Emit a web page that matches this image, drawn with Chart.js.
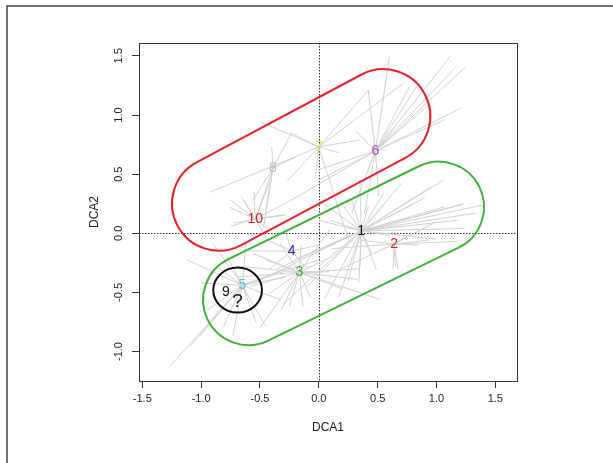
<!DOCTYPE html>
<html>
<head>
<meta charset="utf-8">
<script src="https://cdn.jsdelivr.net/npm/chart.js@4.4.1/dist/chart.umd.min.js"></script>
<style>
  body { margin: 0; background: #fff; }
  canvas { display: block; }
</style>
</head>
<body>
<canvas id="myChart" width="613" height="463"></canvas>
<script>
const canvas = document.getElementById('myChart');
const ctx = canvas.getContext('2d');

// axis ticks
const xTicks = [-1.5, -1.0, -0.5, 0.0, 0.5, 1.0, 1.5];
const yTicks = [-1.0, -0.5, 0.0, 0.5, 1.0, 1.5];

// group centroids (DCA1, DCA2) and their labels
const groupLabels = ['1', '2', '3', '4', '5', '6', '7', '8', '9', '10'];
const centroidX = [0.36, 0.64, -0.165, -0.23, -0.65, 0.48, 0.0, -0.39, -0.79, -0.54];
const centroidY = [0.02, -0.09, -0.33, -0.15, -0.44, 0.695, 0.73, 0.55, -0.50, 0.12];

// site scores for each group (ends of the spider lines)
const sites1 = [[0.0, 0.28], [0.0, 0.11], [0.0, -0.14], [0.0, -0.28], [0.28, 0.28], [0.56, 0.25],
  [0.79, 0.24], [1.07, 0.225], [1.24, 0.04], [1.18, 0.11], [1.21, 0.24], [1.33, 0.17],
  [0.45, -0.17], [0.49, -0.31], [0.34, -0.42], [0.17, -0.54], [0.35, -0.28], [0.42, 0.23],
  [1.06, 0.45], [1.23, 0.25], [0.95, 0.39], [1.40, 0.24], [0.55, 0.34], [0.35, 0.45],
  [0.21, 0.23], [0.10, 0.11], [-0.2, -0.22], [-0.35, -0.3], [-0.1, -0.45], [-0.55, -0.42],
  [0.9, 0.3], [0.7, 0.42], [1.0, -0.05], [0.6, -0.02], [0.25, -0.4], [-0.3, -0.6], [0.05, -0.55]];
const sites2 = [[0.675, -0.31], [0.65, -0.28], [0.63, -0.3], [1.17, -0.07], [0.93, -0.057],
  [0.79, 0.0], [0.11, -0.13], [0.36, -0.06], [0.17, -0.31], [0.85, -0.1], [1.0, 0.1]];
const sites3 = [[0.09, 0.03], [0.09, -0.325], [-0.45, -0.225], [-0.42, -0.51], [-0.25, -0.62],
  [-0.135, -0.62], [-0.70, -0.37], [-0.56, -0.17], [-0.33, -0.085], [0.52, -0.56], [0.33, -0.39],
  [0.1, -0.2], [-0.07, -0.54], [-0.32, -0.65], [-0.58, -0.45], [-0.66, -0.28], [0.35, -0.3],
  [0.2, -0.47], [-0.15, -0.1], [0.0, -0.33], [-0.5, -0.8]];
const sites4 = [[-0.45, -0.05], [0.0, -0.1], [-0.1, -0.3], [-0.42, -0.3], [-0.3, 0.05], [-0.6, -0.15]];
const sites5 = [[-1.27, -1.13], [-1.1, -0.96], [-1.01, -0.87], [-1.12, -0.225], [-0.9, -0.085],
  [-0.62, -0.085], [-0.73, -0.87], [-0.53, -0.76], [-0.45, -0.79], [-0.33, -0.56], [-0.28, -0.37],
  [-0.22, -0.28], [0.0, -0.225], [-0.87, -0.28], [-0.95, -0.65], [-0.81, -0.79], [-0.78, -0.2],
  [-1.0, -0.42]];
const sites6 = [[0.60, 1.49], [1.12, 1.50], [1.25, 1.41], [1.17, 1.41], [1.21, 1.06], [0.77, 1.24],
  [0.42, 1.21], [0.32, 0.86], [0.0, 0.54], [0.0, 0.45], [0.56, 0.71], [0.51, 0.31], [0.28, 0.17],
  [0.39, 0.17], [0.65, 0.9], [0.85, 1.27], [1.07, 0.96], [-0.2, 0.3], [0.95, 1.1]];
const sites7 = [[0.42, 1.21], [0.72, 1.27], [0.17, 0.68], [0.35, 0.79], [-0.24, 0.85], [-0.49, 0.94],
  [-0.03, 0.47], [-0.27, 0.44], [-0.92, 0.35], [0.25, -0.05]];
const sites8 = [[-0.40, 0.73], [-0.23, 0.85], [-0.56, 0.28], [-0.52, 0.17], [-0.45, 0.2], [-0.19, 0.65],
  [-0.47, 0.05]];
const sites9 = [];
const sites10 = [[-0.76, 0.22], [-0.73, 0.085], [-0.28, 0.155], [-0.39, 0.0], [-0.45, -0.03],
  [-0.64, 0.28], [-0.75, 0.28], [-0.66, 0.31], [-0.41, 0.45], [-0.18, 0.31], [-0.31, 0.155],
  [-0.75, 0.06], [-0.55, 0.35]];
const allSites = [sites1, sites2, sites3, sites4, sites5, sites6, sites7, sites8, sites9, sites10];

// hulls drawn around groups: centre, half length, radius, angle (deg)
const hullX = [-0.15, 0.21];
const hullY = [0.62, -0.17];
const hullHalfLen = [0.79, 0.90];
const hullRadius = [0.40, 0.385];
const hullAngle = [28, 26];

// the "?" circle
const circleX = -0.69, circleY = -0.48, circleRx = 0.207, circleRy = 0.19;

const labelColors = ['#111111', '#dd2222', '#33aa33', '#2a2ab0', '#4cc8d8',
  '#b040c0', '#e6de3a', '#b8b8b8', '#111111', '#cc2525'];
const hullColors = ['#e8202a', '#44b03c'];

// one dataset per group; spokes separated by gaps
const datasets = allSites.map((sites, g) => {
  const pts = [];
  sites.forEach(s => {
    pts.push({ x: centroidX[g], y: centroidY[g] });
    pts.push({ x: s[0], y: s[1] });
    pts.push({ x: null, y: null });
  });
  return {
    data: pts,
    showLine: true,
    spanGaps: false,
    borderColor: '#d2d2d2',
    borderWidth: 1,
    pointRadius: 0
  };
});

const font = 'Liberation Sans, Arial, sans-serif';

const decor = {
  id: 'decor',
  beforeDraw(chart) {
    const c = chart.ctx;
    c.save();
    c.fillStyle = '#fff';
    c.fillRect(0, 0, chart.width, chart.height);
    c.restore();
  },
  beforeDatasetsDraw(chart) {
    const c = chart.ctx, a = chart.chartArea;
    const xs = chart.scales.x, ys = chart.scales.y;
    c.save();
    c.strokeStyle = '#333';
    c.lineWidth = 1;
    c.setLineDash([1.5, 1.5]);
    const x0 = Math.round(xs.getPixelForValue(0)) + 0.5;
    const y0 = Math.round(ys.getPixelForValue(0)) + 0.5;
    c.beginPath();
    c.moveTo(x0, a.top); c.lineTo(x0, a.bottom);
    c.moveTo(a.left, y0); c.lineTo(a.right, y0);
    c.stroke();
    c.restore();
  },
  afterDatasetsDraw(chart) {
    const c = chart.ctx;
    const xs = chart.scales.x, ys = chart.scales.y;
    const k = xs.getPixelForValue(1) - xs.getPixelForValue(0);
    const ky = ys.getPixelForValue(0) - ys.getPixelForValue(1);
    c.save();
    // hulls
    c.lineWidth = 2;
    hullX.forEach((hx, i) => {
      const L = hullHalfLen[i] * k, r = hullRadius[i] * k;
      c.save();
      c.translate(xs.getPixelForValue(hx), ys.getPixelForValue(hullY[i]));
      c.rotate(-hullAngle[i] * Math.PI / 180);
      c.beginPath();
      c.moveTo(-L, -r);
      c.lineTo(L, -r);
      c.arc(L, 0, r, -Math.PI / 2, Math.PI / 2);
      c.lineTo(-L, r);
      c.arc(-L, 0, r, Math.PI / 2, Math.PI * 1.5);
      c.closePath();
      c.strokeStyle = hullColors[i];
      c.stroke();
      c.restore();
    });
    // circle
    c.beginPath();
    c.ellipse(xs.getPixelForValue(circleX), ys.getPixelForValue(circleY),
      circleRx * k, circleRy * ky, 0, 0, Math.PI * 2);
    c.strokeStyle = '#111';
    c.stroke();
    // group labels
    c.font = '14px ' + font;
    c.textAlign = 'center';
    c.textBaseline = 'middle';
    groupLabels.forEach((t, g) => {
      c.fillStyle = labelColors[g];
      c.fillText(t, xs.getPixelForValue(centroidX[g]), ys.getPixelForValue(centroidY[g]));
    });
    c.font = '19px ' + font;
    c.fillStyle = '#111';
    c.fillText('?', xs.getPixelForValue(-0.69), ys.getPixelForValue(-0.58));
    c.restore();
  },
  afterDraw(chart) {
    const c = chart.ctx, a = chart.chartArea;
    const ys = chart.scales.y;
    c.save();
    // plot box
    c.strokeStyle = '#333';
    c.lineWidth = 1;
    c.strokeRect(a.left + 0.5, a.top + 0.5, a.right - a.left, a.bottom - a.top);
    // rotated y tick labels
    c.fillStyle = '#222';
    c.font = '11px ' + font;
    c.textAlign = 'center';
    c.textBaseline = 'middle';
    yTicks.forEach(v => {
      c.save();
      c.translate(a.left - 20, ys.getPixelForValue(v));
      c.rotate(-Math.PI / 2);
      c.fillText(v.toFixed(1), 0, 0);
      c.restore();
    });
    // outer frame
    c.strokeStyle = '#444';
    c.lineWidth = 1.5;
    c.beginPath();
    c.moveTo(7, chart.height);
    c.lineTo(7, 6);
    c.lineTo(chart.width, 6);
    c.stroke();
    c.restore();
  }
};

var myChart = new Chart(ctx, {
  type: 'scatter',
  data: { datasets: datasets },
  options: {
    responsive: false,
    animation: false,
    layout: { padding: { left: 80, top: 43, right: 96, bottom: 0 } },
    plugins: { legend: { display: false }, tooltip: { enabled: false } },
    scales: {
      x: {
        type: 'linear',
        min: -1.528,
        max: 1.684,
        afterBuildTicks: s => { s.ticks = xTicks.map(v => ({ value: v })); },
        afterFit: s => { s.height = 82; },
        grid: { drawOnChartArea: false, drawTicks: true, tickLength: 7, tickColor: '#333', color: '#333' },
        border: { display: false },
        ticks: {
          autoSkip: false, maxRotation: 0, padding: 4, color: '#222',
          font: { family: font, size: 11 },
          callback: v => Number(v).toFixed(1)
        },
        title: { display: true, text: 'DCA1', color: '#222', font: { family: font, size: 12 }, padding: { top: 0, bottom: 28 } }
      },
      y: {
        type: 'linear',
        min: -1.249,
        max: 1.609,
        afterBuildTicks: s => { s.ticks = yTicks.map(v => ({ value: v })); },
        afterFit: s => { s.width = 59; },
        grid: { drawOnChartArea: false, drawTicks: true, tickLength: 7, tickColor: '#333', color: '#333' },
        border: { display: false },
        ticks: { display: false },
        title: { display: true, text: 'DCA2', color: '#222', font: { family: font, size: 12 }, padding: { top: 7, bottom: 0 } }
      }
    }
  },
  plugins: [decor]
});
</script>
</body>
</html>
